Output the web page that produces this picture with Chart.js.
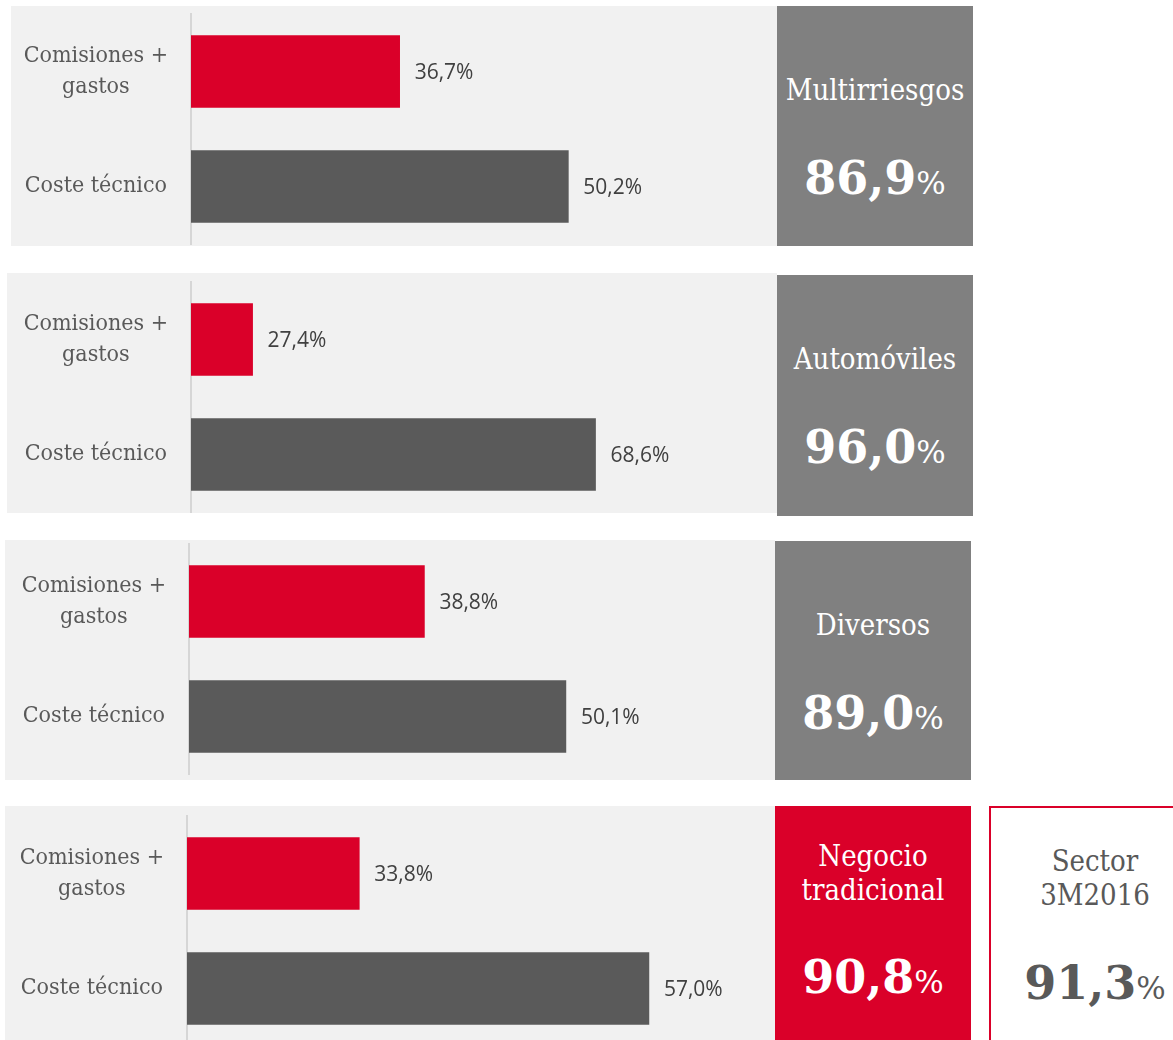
<!DOCTYPE html>
<html>
<head>
<meta charset="utf-8">
<script src="https://cdn.jsdelivr.net/npm/chart.js@4.4.1/dist/chart.umd.min.js"></script>
<style>
  html, body { margin: 0; padding: 0; background: #ffffff; width: 1173px; height: 1040px; overflow: hidden; }
  .panel { position: absolute; background: #f1f1f1; }
  .panel canvas { position: absolute; left: 0; top: 0; }
  .box { position: absolute; text-align: center; color: #ffffff; box-sizing: border-box; }
  .title { position: absolute; left: 0; right: 0; font-family: "DejaVu Serif Condensed", "DejaVu Serif", serif; font-size: 29px; line-height: 34px; }
  .num { position: absolute; left: 0; right: 0; font-family: "DejaVu Serif", serif; font-weight: bold; font-size: 46px; line-height: 60px; }
  .num span { font-weight: normal; font-size: 31px; }
</style>
</head>
<body>
<script>
// ---- data ----
const categories = [["Comisiones +", "gastos"], "Coste técnico"];
const panelNames = [["Multirriesgos"], ["Automóviles"], ["Diversos"], ["Negocio", "tradicional"]];
const comisiones = [36.7, 27.4, 38.8, 33.8];
const costeTecnico = [50.2, 68.6, 50.1, 57.0];
const ratios = [86.9, 96.0, 89.0, 90.8];
const sectorTitle = ["Sector", "3M2016"];
const sectorRatio = [91.3];
const axisMin = [20, 20, 20, 20];
const axisMax = [66.9, 90.4, 66.8, 67.1];

// ---- layout / style ----
const RED = "#da0029";
const DARK = "#5a5a5a";
const BOXGRAY = "#808080";
const panels = [
  { left: 11, top: 6,   height: 240, axisX: 191, padTop: 8,  padBottom: 2, box: { left: 777, top: 6,   w: 196, h: 240 } },
  { left: 7,  top: 273, height: 240, axisX: 191, padTop: 9,  padBottom: 1, box: { left: 777, top: 275, w: 196, h: 241 } },
  { left: 5,  top: 540, height: 240, axisX: 189, padTop: 4,  padBottom: 6, box: { left: 775, top: 541, w: 196, h: 239 } },
  { left: 5,  top: 806, height: 240, axisX: 187, padTop: 10, padBottom: 0, box: { left: 775, top: 806, w: 196, h: 240 } }
];

function fmt(v) { return v.toFixed(1).replace('.', ',') + '%'; }

const valueLabels = {
  id: 'valueLabels',
  afterDatasetsDraw(chart) {
    const ctx = chart.ctx;
    ctx.save();
    ctx.font = '400 21px "Open Sans", "DejaVu Sans", sans-serif';
    ctx.fillStyle = '#404040';
    ctx.textAlign = 'left';
    ctx.textBaseline = 'middle';
    const meta = chart.getDatasetMeta(0);
    meta.data.forEach((bar, i) => {
      const v = chart.data.datasets[0].data[i];
      ctx.fillText(fmt(v), bar.x + 15, bar.y + 2);
    });
    ctx.restore();
  }
};

panels.forEach((p, i) => {
  const width = p.box.left - p.left;
  const div = document.createElement('div');
  div.className = 'panel';
  div.style.left = p.left + 'px';
  div.style.top = p.top + 'px';
  div.style.width = width + 'px';
  div.style.height = p.height + 'px';
  const canvas = document.createElement('canvas');
  canvas.width = width; canvas.height = p.height;
  canvas.style.width = width + 'px'; canvas.style.height = p.height + 'px';
  div.appendChild(canvas);
  document.body.appendChild(div);

  const yWidth = p.axisX - p.left;
  new Chart(canvas, {
    type: 'bar',
    data: {
      labels: categories,
      datasets: [{
        data: [comisiones[i], costeTecnico[i]],
        backgroundColor: [RED, DARK],
        barThickness: 72,
        borderWidth: 0
      }]
    },
    options: {
      indexAxis: 'y',
      responsive: false,
      animation: false,
      events: [],
      layout: { padding: { top: p.padTop, bottom: p.padBottom, left: 0, right: 0 } },
      plugins: { legend: { display: false }, tooltip: { enabled: false } },
      scales: {
        x: { display: false, min: axisMin[i], max: axisMax[i] },
        y: {
          afterFit(scale) { scale.width = yWidth; scale.paddingTop = 0; scale.paddingBottom = 0; },
          grid: { display: true, drawOnChartArea: false, drawTicks: false, color: 'rgba(0,0,0,0)' },
          border: { display: true, color: '#d6d6d6', width: 2 },
          ticks: {
            crossAlign: 'center',
            padding: 23,
            color: '#595959',
            font: { family: '"DejaVu Serif Condensed", "DejaVu Serif", serif', size: 23, lineHeight: 1.36 }
          }
        }
      }
    },
    plugins: [valueLabels]
  });

  // side box
  const b = document.createElement('div');
  b.className = 'box';
  b.style.left = p.box.left + 'px';
  b.style.top = p.box.top + 'px';
  b.style.width = p.box.w + 'px';
  b.style.height = p.box.h + 'px';
  b.style.background = (i === 3) ? RED : BOXGRAY;
  const t = document.createElement('div');
  t.className = 'title';
  const lines = panelNames[i];
  t.style.top = (lines.length === 1 ? 67 : 33) + 'px';
  t.innerHTML = lines.join('<br>');
  const n = document.createElement('div');
  n.className = 'num';
  n.style.top = (lines.length === 1 ? 142 : 141) + 'px';
  n.innerHTML = ratios[i].toFixed(1).replace('.', ',') + '<span>%</span>';
  b.appendChild(t); b.appendChild(n);
  document.body.appendChild(b);
});

// sector box
const s = document.createElement('div');
s.className = 'box';
s.style.left = '989px'; s.style.top = '806px'; s.style.width = '212px'; s.style.height = '250px';
s.style.border = '2px solid ' + RED;
s.style.color = '#595959';
const st = document.createElement('div');
st.className = 'title';
st.style.top = '36px';
st.innerHTML = sectorTitle.join('<br>');
const sn = document.createElement('div');
sn.className = 'num';
sn.style.top = '145px';
sn.innerHTML = sectorRatio[0].toFixed(1).replace('.', ',') + '<span>%</span>';
s.appendChild(st); s.appendChild(sn);
document.body.appendChild(s);
</script>
</body>
</html>
